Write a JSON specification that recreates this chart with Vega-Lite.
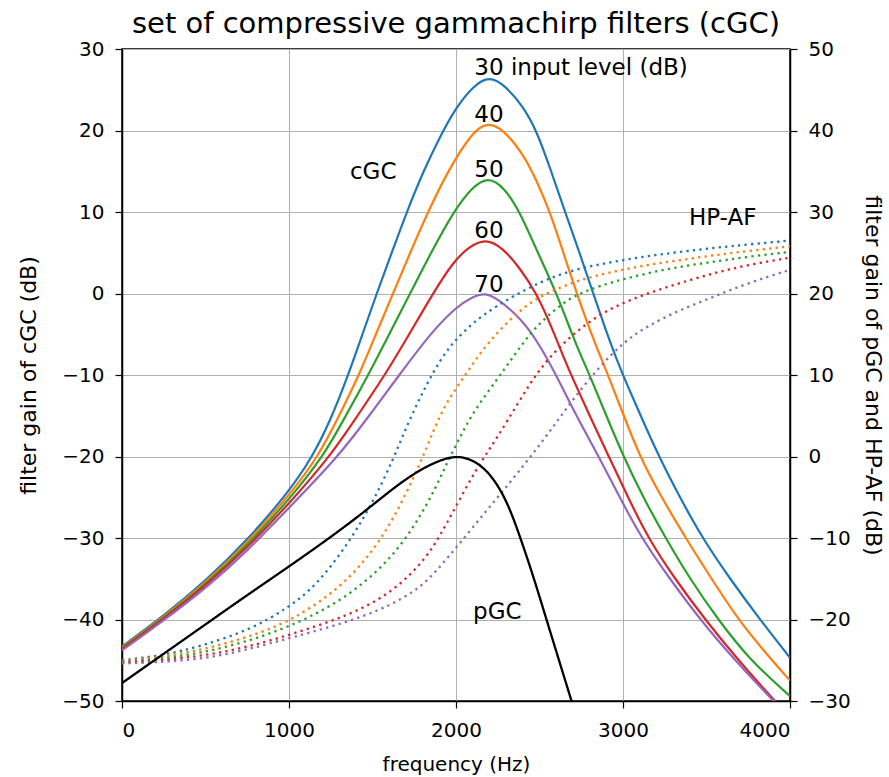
{
"$schema": "https://vega.github.io/schema/vega-lite/v6.json",
"width": 668, "height": 652,
"autosize": {"type": "none"},
"padding": {"left": 122, "top": 49, "right": 99, "bottom": 76},
"background": "white",
"title": {"text": "set of compressive gammachirp filters (cGC)", "font": "DejaVu Sans", "fontSize": 29, "fontWeight": "normal", "color": "black", "anchor": "middle", "offset": 0},
"config": {
  "view": {"stroke": "black", "strokeWidth": 1.5},
  "axis": {"labelFont": "DejaVu Sans", "labelFontSize": 20, "labelColor": "black", "titleFont": "DejaVu Sans", "titleFontSize": 20, "titleFontWeight": "normal", "titleColor": "black", "domainColor": "black", "domainWidth": 1.5, "tickColor": "black", "tickSize": 7, "tickWidth": 1.2, "labelPadding": 11, "gridColor": "#b0b0b0", "gridWidth": 1, "gridOpacity": 1}
},
"datasets": {
"cgc": [
{"level":"30","freq":0,"gain":-43.3},{"level":"30","freq":250,"gain":-39.55},{"level":"30","freq":500,"gain":-35.3},{"level":"30","freq":750,"gain":-30.3},{"level":"30","freq":1000,"gain":-24.3},{"level":"30","freq":1136,"gain":-20.2},{"level":"30","freq":1250,"gain":-15.5},{"level":"30","freq":1355,"gain":-10},{"level":"30","freq":1440,"gain":-5},{"level":"30","freq":1525,"gain":0},{"level":"30","freq":1615,"gain":5},{"level":"30","freq":1705,"gain":10},{"level":"30","freq":1800,"gain":14.8},{"level":"30","freq":1910,"gain":19.5},{"level":"30","freq":2000,"gain":22.8},{"level":"30","freq":2100,"gain":25.4},{"level":"30","freq":2200,"gain":26.75},{"level":"30","freq":2300,"gain":25.4},{"level":"30","freq":2400,"gain":23.0},{"level":"30","freq":2483,"gain":20},{"level":"30","freq":2570,"gain":15},{"level":"30","freq":2653,"gain":10},{"level":"30","freq":2740,"gain":5},{"level":"30","freq":2822,"gain":0},{"level":"30","freq":2900,"gain":-4.7},{"level":"30","freq":2964,"gain":-8.2},{"level":"30","freq":3010,"gain":-10.5},{"level":"30","freq":3110,"gain":-15.2},{"level":"30","freq":3215,"gain":-20},{"level":"30","freq":3340,"gain":-25},{"level":"30","freq":3475,"gain":-30},{"level":"30","freq":3640,"gain":-35},{"level":"30","freq":3820,"gain":-40},{"level":"30","freq":4000,"gain":-44.7},
{"level":"40","freq":0,"gain":-43.4},{"level":"40","freq":250,"gain":-39.7},{"level":"40","freq":500,"gain":-35.5},{"level":"40","freq":750,"gain":-30.6},{"level":"40","freq":1000,"gain":-24.8},{"level":"40","freq":1176,"gain":-20},{"level":"40","freq":1300,"gain":-15},{"level":"40","freq":1420,"gain":-10},{"level":"40","freq":1520,"gain":-5},{"level":"40","freq":1623,"gain":0},{"level":"40","freq":1725,"gain":5},{"level":"40","freq":1832,"gain":10},{"level":"40","freq":1950,"gain":15},{"level":"40","freq":2100,"gain":19.9},{"level":"40","freq":2190,"gain":21.0},{"level":"40","freq":2280,"gain":20.2},{"level":"40","freq":2400,"gain":17.2},{"level":"40","freq":2480,"gain":14},{"level":"40","freq":2563,"gain":10},{"level":"40","freq":2640,"gain":5.2},{"level":"40","freq":2723,"gain":0},{"level":"40","freq":2800,"gain":-4.4},{"level":"40","freq":2874,"gain":-8.2},{"level":"40","freq":2910,"gain":-10},{"level":"40","freq":3005,"gain":-15},{"level":"40","freq":3100,"gain":-20},{"level":"40","freq":3230,"gain":-25},{"level":"40","freq":3375,"gain":-30},{"level":"40","freq":3530,"gain":-35},{"level":"40","freq":3689,"gain":-40},{"level":"40","freq":3850,"gain":-44},{"level":"40","freq":4000,"gain":-47.5},
{"level":"50","freq":0,"gain":-43.5},{"level":"50","freq":250,"gain":-39.8},{"level":"50","freq":500,"gain":-35.7},{"level":"50","freq":750,"gain":-30.9},{"level":"50","freq":1000,"gain":-25.3},{"level":"50","freq":1206,"gain":-20},{"level":"50","freq":1340,"gain":-15},{"level":"50","freq":1475,"gain":-10},{"level":"50","freq":1600,"gain":-5},{"level":"50","freq":1725,"gain":0},{"level":"50","freq":1850,"gain":5},{"level":"50","freq":1984,"gain":10},{"level":"50","freq":2090,"gain":12.9},{"level":"50","freq":2190,"gain":14.4},{"level":"50","freq":2290,"gain":13.0},{"level":"50","freq":2383,"gain":10},{"level":"50","freq":2490,"gain":5},{"level":"50","freq":2603,"gain":0},{"level":"50","freq":2700,"gain":-5.3},{"level":"50","freq":2760,"gain":-8.2},{"level":"50","freq":2800,"gain":-10},{"level":"50","freq":2900,"gain":-15},{"level":"50","freq":3003,"gain":-20},{"level":"50","freq":3120,"gain":-25},{"level":"50","freq":3255,"gain":-30},{"level":"50","freq":3400,"gain":-35},{"level":"50","freq":3569,"gain":-40},{"level":"50","freq":3760,"gain":-45},{"level":"50","freq":4000,"gain":-49.4},
{"level":"60","freq":0,"gain":-43.6},{"level":"60","freq":250,"gain":-39.9},{"level":"60","freq":500,"gain":-35.9},{"level":"60","freq":750,"gain":-31.2},{"level":"60","freq":1000,"gain":-25.8},{"level":"60","freq":1245,"gain":-20},{"level":"60","freq":1410,"gain":-15},{"level":"60","freq":1575,"gain":-10},{"level":"60","freq":1720,"gain":-5},{"level":"60","freq":1862,"gain":0},{"level":"60","freq":1980,"gain":3.8},{"level":"60","freq":2080,"gain":5.8},{"level":"60","freq":2180,"gain":6.75},{"level":"60","freq":2280,"gain":5.6},{"level":"60","freq":2380,"gain":3.2},{"level":"60","freq":2483,"gain":0},{"level":"60","freq":2570,"gain":-4},{"level":"60","freq":2652,"gain":-8.2},{"level":"60","freq":2690,"gain":-10},{"level":"60","freq":2800,"gain":-15},{"level":"60","freq":2915,"gain":-20},{"level":"60","freq":3030,"gain":-25},{"level":"60","freq":3150,"gain":-30},{"level":"60","freq":3310,"gain":-35},{"level":"60","freq":3491,"gain":-40},{"level":"60","freq":3690,"gain":-45},{"level":"60","freq":3910,"gain":-50},{"level":"60","freq":4000,"gain":-52},
{"level":"70","freq":0,"gain":-43.8},{"level":"70","freq":250,"gain":-40.1},{"level":"70","freq":500,"gain":-36.2},{"level":"70","freq":750,"gain":-31.6},{"level":"70","freq":1000,"gain":-26.3},{"level":"70","freq":1296,"gain":-20},{"level":"70","freq":1480,"gain":-15},{"level":"70","freq":1660,"gain":-10},{"level":"70","freq":1850,"gain":-4.8},{"level":"70","freq":2004,"gain":-1.6},{"level":"70","freq":2100,"gain":-0.4},{"level":"70","freq":2170,"gain":0.1},{"level":"70","freq":2250,"gain":-0.6},{"level":"70","freq":2400,"gain":-3.3},{"level":"70","freq":2500,"gain":-6.3},{"level":"70","freq":2600,"gain":-10},{"level":"70","freq":2720,"gain":-15},{"level":"70","freq":2855,"gain":-20},{"level":"70","freq":2980,"gain":-25},{"level":"70","freq":3110,"gain":-30},{"level":"70","freq":3280,"gain":-35},{"level":"70","freq":3461,"gain":-40},{"level":"70","freq":3670,"gain":-45},{"level":"70","freq":3900,"gain":-50},{"level":"70","freq":4000,"gain":-52}
],
"right": [
{"series":"30","kind":"HP-AF","freq":0,"gain":-25.0},{"series":"30","kind":"HP-AF","freq":250,"gain":-24.4},{"series":"30","kind":"HP-AF","freq":467,"gain":-23.3},{"series":"30","kind":"HP-AF","freq":766,"gain":-21.3},{"series":"30","kind":"HP-AF","freq":1000,"gain":-18.5},{"series":"30","kind":"HP-AF","freq":1166,"gain":-15.8},{"series":"30","kind":"HP-AF","freq":1365,"gain":-10.4},{"series":"30","kind":"HP-AF","freq":1505,"gain":-5.5},{"series":"30","kind":"HP-AF","freq":1625,"gain":-0.3},{"series":"30","kind":"HP-AF","freq":1700,"gain":3.5},{"series":"30","kind":"HP-AF","freq":1784,"gain":7.2},{"series":"30","kind":"HP-AF","freq":1864,"gain":10.4},{"series":"30","kind":"HP-AF","freq":1944,"gain":13.0},{"series":"30","kind":"HP-AF","freq":2004,"gain":14.4},{"series":"30","kind":"HP-AF","freq":2104,"gain":16.5},{"series":"30","kind":"HP-AF","freq":2244,"gain":18.5},{"series":"30","kind":"HP-AF","freq":2424,"gain":20.6},{"series":"30","kind":"HP-AF","freq":2584,"gain":22.1},{"series":"30","kind":"HP-AF","freq":2743,"gain":23.1},{"series":"30","kind":"HP-AF","freq":2943,"gain":23.9},{"series":"30","kind":"HP-AF","freq":3143,"gain":24.6},{"series":"30","kind":"HP-AF","freq":3343,"gain":25.1},{"series":"30","kind":"HP-AF","freq":3543,"gain":25.6},{"series":"30","kind":"HP-AF","freq":3743,"gain":26.0},{"series":"30","kind":"HP-AF","freq":4000,"gain":26.5},
{"series":"40","kind":"HP-AF","freq":0,"gain":-25.1},{"series":"40","kind":"HP-AF","freq":250,"gain":-24.6},{"series":"40","kind":"HP-AF","freq":500,"gain":-23.6},{"series":"40","kind":"HP-AF","freq":750,"gain":-22.2},{"series":"40","kind":"HP-AF","freq":1000,"gain":-20.3},{"series":"40","kind":"HP-AF","freq":1265,"gain":-16.8},{"series":"40","kind":"HP-AF","freq":1465,"gain":-12.7},{"series":"40","kind":"HP-AF","freq":1625,"gain":-7.8},{"series":"40","kind":"HP-AF","freq":1784,"gain":-1.0},{"series":"40","kind":"HP-AF","freq":1864,"gain":3.2},{"series":"40","kind":"HP-AF","freq":1943,"gain":6.7},{"series":"40","kind":"HP-AF","freq":2063,"gain":10.2},{"series":"40","kind":"HP-AF","freq":2144,"gain":12.7},{"series":"40","kind":"HP-AF","freq":2243,"gain":15.1},{"series":"40","kind":"HP-AF","freq":2343,"gain":17.2},{"series":"40","kind":"HP-AF","freq":2463,"gain":19.2},{"series":"40","kind":"HP-AF","freq":2583,"gain":20.4},{"series":"40","kind":"HP-AF","freq":2743,"gain":21.7},{"series":"40","kind":"HP-AF","freq":2943,"gain":22.7},{"series":"40","kind":"HP-AF","freq":3143,"gain":23.5},{"series":"40","kind":"HP-AF","freq":3343,"gain":24.1},{"series":"40","kind":"HP-AF","freq":3543,"gain":24.7},{"series":"40","kind":"HP-AF","freq":3743,"gain":25.2},{"series":"40","kind":"HP-AF","freq":4000,"gain":25.8},
{"series":"50","kind":"HP-AF","freq":0,"gain":-25.2},{"series":"50","kind":"HP-AF","freq":250,"gain":-24.8},{"series":"50","kind":"HP-AF","freq":500,"gain":-24.0},{"series":"50","kind":"HP-AF","freq":750,"gain":-22.7},{"series":"50","kind":"HP-AF","freq":1000,"gain":-20.9},{"series":"50","kind":"HP-AF","freq":1265,"gain":-18.3},{"series":"50","kind":"HP-AF","freq":1505,"gain":-14.7},{"series":"50","kind":"HP-AF","freq":1704,"gain":-10.2},{"series":"50","kind":"HP-AF","freq":1864,"gain":-4.5},{"series":"50","kind":"HP-AF","freq":1930,"gain":-1.5},{"series":"50","kind":"HP-AF","freq":2014,"gain":2.0},{"series":"50","kind":"HP-AF","freq":2104,"gain":5.5},{"series":"50","kind":"HP-AF","freq":2244,"gain":9.4},{"series":"50","kind":"HP-AF","freq":2343,"gain":12.25},{"series":"50","kind":"HP-AF","freq":2443,"gain":15.1},{"series":"50","kind":"HP-AF","freq":2543,"gain":17.15},{"series":"50","kind":"HP-AF","freq":2663,"gain":19.2},{"series":"50","kind":"HP-AF","freq":2783,"gain":20.4},{"series":"50","kind":"HP-AF","freq":2943,"gain":21.45},{"series":"50","kind":"HP-AF","freq":3143,"gain":22.5},{"series":"50","kind":"HP-AF","freq":3343,"gain":23.3},{"series":"50","kind":"HP-AF","freq":3543,"gain":23.9},{"series":"50","kind":"HP-AF","freq":3743,"gain":24.5},{"series":"50","kind":"HP-AF","freq":4000,"gain":25.1},
{"series":"60","kind":"HP-AF","freq":0,"gain":-25.3},{"series":"60","kind":"HP-AF","freq":250,"gain":-25.0},{"series":"60","kind":"HP-AF","freq":500,"gain":-24.4},{"series":"60","kind":"HP-AF","freq":750,"gain":-23.4},{"series":"60","kind":"HP-AF","freq":1000,"gain":-21.9},{"series":"60","kind":"HP-AF","freq":1365,"gain":-19.5},{"series":"60","kind":"HP-AF","freq":1625,"gain":-16.6},{"series":"60","kind":"HP-AF","freq":1824,"gain":-12.5},{"series":"60","kind":"HP-AF","freq":1930,"gain":-8.8},{"series":"60","kind":"HP-AF","freq":2104,"gain":-2.1},{"series":"60","kind":"HP-AF","freq":2204,"gain":1.0},{"series":"60","kind":"HP-AF","freq":2303,"gain":4.2},{"series":"60","kind":"HP-AF","freq":2443,"gain":9.0},{"series":"60","kind":"HP-AF","freq":2543,"gain":11.8},{"series":"60","kind":"HP-AF","freq":2663,"gain":14.3},{"series":"60","kind":"HP-AF","freq":2783,"gain":16.35},{"series":"60","kind":"HP-AF","freq":2943,"gain":18.4},{"series":"60","kind":"HP-AF","freq":3143,"gain":20.0},{"series":"60","kind":"HP-AF","freq":3343,"gain":21.3},{"series":"60","kind":"HP-AF","freq":3543,"gain":22.5},{"series":"60","kind":"HP-AF","freq":3743,"gain":23.5},{"series":"60","kind":"HP-AF","freq":4000,"gain":24.4},
{"series":"70","kind":"HP-AF","freq":0,"gain":-25.4},{"series":"70","kind":"HP-AF","freq":250,"gain":-25.2},{"series":"70","kind":"HP-AF","freq":500,"gain":-24.8},{"series":"70","kind":"HP-AF","freq":750,"gain":-23.7},{"series":"70","kind":"HP-AF","freq":1000,"gain":-22.3},{"series":"70","kind":"HP-AF","freq":1465,"gain":-19.7},{"series":"70","kind":"HP-AF","freq":1765,"gain":-16.6},{"series":"70","kind":"HP-AF","freq":1904,"gain":-13.6},{"series":"70","kind":"HP-AF","freq":2104,"gain":-8.6},{"series":"70","kind":"HP-AF","freq":2303,"gain":-3.7},{"series":"70","kind":"HP-AF","freq":2503,"gain":1.4},{"series":"70","kind":"HP-AF","freq":2663,"gain":6.0},{"series":"70","kind":"HP-AF","freq":2843,"gain":10.7},{"series":"70","kind":"HP-AF","freq":3002,"gain":14.0},{"series":"70","kind":"HP-AF","freq":3143,"gain":16.0},{"series":"70","kind":"HP-AF","freq":3343,"gain":18.0},{"series":"70","kind":"HP-AF","freq":3543,"gain":19.6},{"series":"70","kind":"HP-AF","freq":3743,"gain":21.25},{"series":"70","kind":"HP-AF","freq":4000,"gain":22.9},
{"series":"pGC","kind":"pGC","freq":0,"gain":-27.8},{"series":"pGC","kind":"pGC","freq":250,"gain":-24.2},{"series":"pGC","kind":"pGC","freq":500,"gain":-20.6},{"series":"pGC","kind":"pGC","freq":750,"gain":-17.0},{"series":"pGC","kind":"pGC","freq":1000,"gain":-13.5},{"series":"pGC","kind":"pGC","freq":1250,"gain":-9.9},{"series":"pGC","kind":"pGC","freq":1450,"gain":-6.8},{"series":"pGC","kind":"pGC","freq":1600,"gain":-4.3},{"series":"pGC","kind":"pGC","freq":1725,"gain":-2.4},{"series":"pGC","kind":"pGC","freq":1850,"gain":-0.9},{"series":"pGC","kind":"pGC","freq":1994,"gain":0.2},{"series":"pGC","kind":"pGC","freq":2103,"gain":-0.4},{"series":"pGC","kind":"pGC","freq":2203,"gain":-2.0},{"series":"pGC","kind":"pGC","freq":2303,"gain":-5.3},{"series":"pGC","kind":"pGC","freq":2383,"gain":-9.8},{"series":"pGC","kind":"pGC","freq":2463,"gain":-14.7},{"series":"pGC","kind":"pGC","freq":2539,"gain":-19.8},{"series":"pGC","kind":"pGC","freq":2615,"gain":-24.9},{"series":"pGC","kind":"pGC","freq":2692,"gain":-30},{"series":"pGC","kind":"pGC","freq":2740,"gain":-33.2}
],
"labels": [
{"freq":1365,"gain":14.9,"label":"cGC"},
{"freq":2110,"gain":27.7,"label":"30 input level (dB)"},
{"freq":2110,"gain":21.9,"label":"40"},
{"freq":2110,"gain":15.2,"label":"50"},
{"freq":2110,"gain":7.7,"label":"60"},
{"freq":2110,"gain":1.0,"label":"70"},
{"freq":3395,"gain":9.3,"label":"HP-AF"},
{"freq":2102,"gain":-39.1,"label":"pGC"}
]
},
"layer": [
{
 "data": {"name": "cgc"},
 "mark": {"type": "line", "interpolate": "basis", "clip": true, "strokeWidth": 2.2},
 "encoding": {
  "x": {"field": "freq", "type": "quantitative", "scale": {"domain": [0, 4000], "nice": false}, "axis": {"title": "frequency (Hz)", "values": [0, 1000, 2000, 3000, 4000], "format": "d", "grid": true, "labelPadding": 12, "titlePadding": 14}},
  "y": {"field": "gain", "type": "quantitative", "scale": {"domain": [-50, 30], "nice": false}, "axis": {"orient": "left", "title": "filter gain of cGC (dB)", "titleFontSize": 22, "values": [-50, -40, -30, -20, -10, 0, 10, 20, 30], "grid": true, "titlePadding": 21}},
  "color": {"field": "level", "type": "nominal", "scale": {"domain": ["30", "40", "50", "60", "70", "pGC"], "range": ["#1f77b4", "#ff7f0e", "#2ca02c", "#d62728", "#9467bd", "#000000"]}, "legend": null}
 }
},
{
 "data": {"name": "right"},
 "mark": {"type": "line", "interpolate": "basis", "clip": true, "strokeWidth": 2.3, "strokeCap": "butt"},
 "encoding": {
  "x": {"field": "freq", "type": "quantitative", "scale": {"domain": [0, 4000], "nice": false}, "axis": {"title": "frequency (Hz)", "values": [0, 1000, 2000, 3000, 4000], "format": "d", "grid": true, "labelPadding": 12, "titlePadding": 14}},
  "y": {"field": "gain", "type": "quantitative", "scale": {"domain": [-30, 50], "nice": false}, "axis": {"orient": "right", "title": "filter gain of pGC and HP-AF (dB)", "titleFontSize": 22, "values": [-30, -20, -10, 0, 10, 20, 30, 40, 50], "grid": false, "titlePadding": 10}},
  "color": {"field": "series", "type": "nominal", "scale": {"domain": ["30", "40", "50", "60", "70", "pGC"], "range": ["#1f77b4", "#ff7f0e", "#2ca02c", "#d62728", "#9467bd", "#000000"]}, "legend": null},
  "strokeDash": {"field": "kind", "type": "nominal", "scale": {"domain": ["HP-AF", "pGC"], "range": [[2.3, 4.2], [1, 0]]}, "legend": null}
 }
},
{
 "data": {"name": "labels"},
 "mark": {"type": "text", "align": "left", "baseline": "middle", "font": "DejaVu Sans", "fontSize": 23, "color": "black"},
 "encoding": {
  "x": {"field": "freq", "type": "quantitative", "scale": {"domain": [0, 4000], "nice": false}, "axis": {"title": "frequency (Hz)", "values": [0, 1000, 2000, 3000, 4000], "format": "d", "grid": true, "labelPadding": 12, "titlePadding": 14}},
  "y": {"field": "gain", "type": "quantitative", "scale": {"domain": [-50, 30], "nice": false}, "axis": null},
  "text": {"field": "label"}
 }
}
],
"resolve": {"scale": {"y": "independent", "strokeDash": "independent"}}
}
